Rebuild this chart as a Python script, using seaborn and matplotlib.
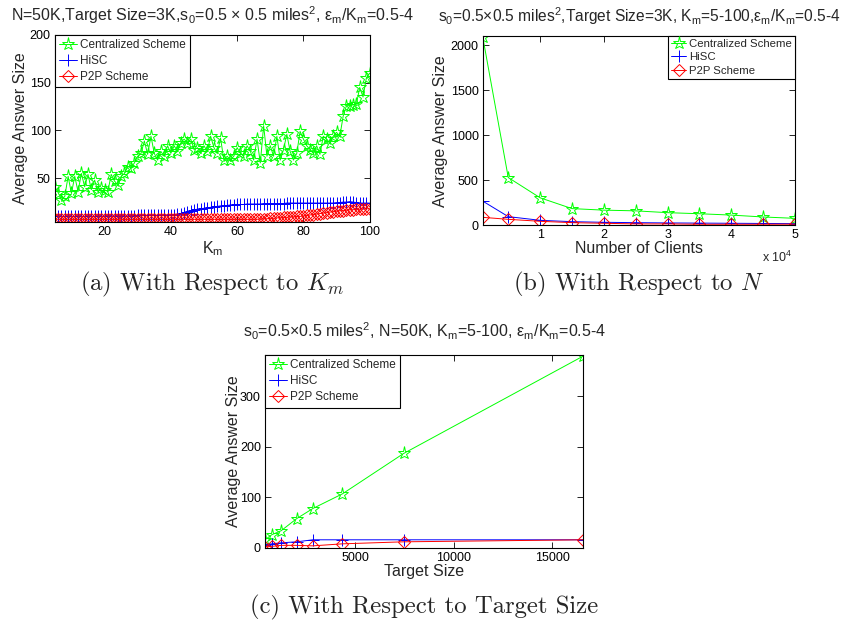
import matplotlib
matplotlib.use("Agg")
import matplotlib.pyplot as plt
import seaborn as sns
import pandas as pd
from matplotlib.ticker import FuncFormatter

# (a) average answer size vs K_m
km = list(range(5, 101))
central_a = [41, 35, 27, 31, 52, 34, 52, 36, 55, 41,
             54, 38, 48, 36, 40, 38, 36, 54, 47, 43,
             52, 55, 62, 61, 66, 73, 76, 89, 75, 94,
             76, 69, 78, 73, 84, 76, 84, 78, 87, 91,
             87, 91, 80, 82, 76, 84, 78, 94, 82, 76,
             92, 69, 73, 69, 73, 82, 76, 73, 84, 78,
             69, 91, 66, 105, 73, 84, 73, 94, 69, 80,
             96, 78, 69, 76, 99, 91, 84, 80, 76, 84,
             75, 94, 91, 87, 94, 98, 94, 115, 126, 126,
             127, 128, 145, 135, 155, 160]
hisc_a = [10, 10, 10, 10, 10, 10, 10, 10, 10, 10,
          10, 10, 10, 10, 10, 10.5, 10.5, 10.5, 10.5, 10.5,
          10.5, 10.5, 10.5, 10.5, 10.5, 11, 11, 11, 11, 11,
          11, 11, 11, 11.5, 11.5, 11.5, 12, 12.5, 13, 14,
          15, 16, 17, 17.5, 18, 18.5, 19, 19.5, 20, 20.5,
          21, 21, 21.5, 22, 22, 22.5, 22.5, 22.5, 23, 23,
          23, 23, 23, 23.5, 23.5, 23.5, 23.5, 23.5, 23.5, 23.5,
          24, 24, 24, 24, 24, 24, 24, 24, 24, 24,
          24, 24, 24, 24, 24, 24.5, 24.5, 25, 25, 25.5,
          25, 24.5, 24, 24, 24, 24]
p2p_a = [7, 7, 7, 7, 7, 7, 7, 7, 7, 7,
         7, 7, 7, 7, 7, 7, 7, 7, 7, 7,
         7, 7, 7, 7, 7, 7, 7, 7, 7, 7,
         7, 7, 7, 7, 7, 7, 7, 7, 7, 7,
         7, 7, 7, 7, 7, 7, 7, 7, 7, 7,
         7, 7, 7, 7, 7, 7, 7, 7, 7, 7,
         7, 7, 7.5, 7.5, 7.5, 8, 8, 8.5, 8.5, 9,
         9, 9.5, 9.5, 10, 10, 10.5, 11, 11.5, 12, 12.5,
         13, 13.5, 14, 14.5, 15, 15.5, 16, 16, 16.5, 17,
         17, 17.5, 17.5, 18, 18, 18]

# (b) average answer size vs number of clients
clients = [1000, 5000, 10000, 15000, 20000, 25000, 30000, 35000, 40000, 45000, 50000]
central_b = [2090, 530, 305, 185, 168, 160, 140, 128, 113, 92, 77]
hisc_b = [268, 96, 55, 40, 33, 29, 26, 24, 22, 20, 18]
p2p_b = [88, 66, 44, 29, 22, 15, 15, 11, 11, 11, 12]

# (c) average answer size vs target size
target = [420, 760, 1240, 2030, 2850, 4350, 7460, 16580]
central_c = [16, 26, 34, 58, 78, 107, 187, 380]
hisc_c = [6, 8, 10, 12, 16, 16, 16, 16]
p2p_c = [2, 3, 5, 5, 4, 8, 12, 16]

sns.set_style("ticks")
plt.rcParams['font.family'] = ['Liberation Sans', 'DejaVu Sans']
plt.rcParams['mathtext.fontset'] = 'custom'
plt.rcParams['mathtext.rm'] = 'Liberation Sans'
plt.rcParams['mathtext.it'] = 'Liberation Sans:italic'
plt.rcParams['mathtext.default'] = 'regular'

GREEN, BLUE, RED = '#00ff00', '#0000ff', '#ff0000'


def draw(ax, x, central, hisc, p2p, ms=8):
    styles = [("Centralized Scheme", central, GREEN, '*', ms + 1.5),
              ("HiSC", hisc, BLUE, '+', ms),
              ("P2P Scheme", p2p, RED, 'D', ms - 2)]
    for label, y, color, marker, size in styles:
        df = pd.DataFrame({'x': x, 'y': y})
        sns.lineplot(data=df, x='x', y='y', ax=ax, color=color, marker=marker,
                     markersize=size, markerfacecolor='none', markeredgecolor=color,
                     markeredgewidth=0.7, linewidth=0.7, label=label, legend=False)
    ax.tick_params(direction='in', top=True, right=True, length=4, width=0.6,
                   labelsize=9, colors='black', pad=3)
    for s in ax.spines.values():
        s.set_linewidth(0.8)
        s.set_color('black')
    ax.set_ylabel("Average Answer Size", fontsize=11.5)


def legend(ax, loc, size=8.5, spacing=0.35, hlen=1.5, bpad=0.35):
    leg = ax.legend(loc=loc, fontsize=size, frameon=True, fancybox=False,
                    edgecolor='black', framealpha=1, borderaxespad=0,
                    handlelength=hlen, labelspacing=spacing, borderpad=bpad,
                    handletextpad=0.3)
    leg.get_frame().set_linewidth(0.8)


fig = plt.figure(figsize=(8.44, 6.24), dpi=100)

ax_a = fig.add_axes([0.065, 0.644, 0.373, 0.300])
draw(ax_a, km, central_a, hisc_a, p2p_a)
ax_a.set_xlim(5, 100)
ax_a.set_ylim(4, 200)
ax_a.set_xticks([20, 40, 60, 80, 100])
ax_a.set_yticks([50, 100, 150, 200])
ax_a.set_xlabel("K$_m$", fontsize=11.5)
ax_a.xaxis.set_label_coords(0.5, -0.09)
ax_a.yaxis.set_label_coords(-0.085, 0.5)
ax_a.set_title("N=50K,Target Size=3K,s$_0$=0.5 × 0.5 miles$^2$, ε$_m$/K$_m$=0.5-4",
               fontsize=11.5, pad=10)
legend(ax_a, 'upper left')

ax_b = fig.add_axes([0.572, 0.639, 0.370, 0.303])
draw(ax_b, clients, central_b, hisc_b, p2p_b)
ax_b.set_xlim(1000, 50000)
ax_b.set_ylim(0, 2100)
ax_b.set_xticks([10000, 20000, 30000, 40000, 50000])
ax_b.set_yticks([0, 500, 1000, 1500, 2000])
ax_b.xaxis.set_major_formatter(FuncFormatter(lambda v, p: f"{v / 1e4:g}"))
ax_b.set_xlabel("Number of Clients", fontsize=11.5)
ax_b.xaxis.set_label_coords(0.5, -0.085)
ax_b.yaxis.set_label_coords(-0.11, 0.5)
ax_b.text(0.99, -0.13, "x 10$^4$", transform=ax_b.transAxes, ha='right',
          va='top', fontsize=9)
ax_b.set_title("s$_0$=0.5×0.5 miles$^2$,Target Size=3K, K$_m$=5-100,ε$_m$/K$_m$=0.5-4",
               fontsize=11.2, pad=10)
legend(ax_b, 'upper right', size=8.2, spacing=0.3, hlen=1.3, bpad=0.25)

ax_c = fig.add_axes([0.314, 0.122, 0.377, 0.309])
draw(ax_c, target, central_c, hisc_c, p2p_c)
ax_c.set_xlim(420, 16580)
ax_c.set_ylim(0, 382)
ax_c.set_xticks([5000, 10000, 15000])
ax_c.set_yticks([0, 100, 200, 300])
ax_c.set_xlabel("Target Size", fontsize=11.5)
ax_c.xaxis.set_label_coords(0.5, -0.085)
ax_c.yaxis.set_label_coords(-0.075, 0.5)
ax_c.set_title("s$_0$=0.5×0.5 miles$^2$, N=50K, K$_m$=5-100, ε$_m$/K$_m$=0.5-4",
               fontsize=11.5, pad=13)
legend(ax_c, 'upper left')

cap = dict(fontfamily='cmr10', math_fontfamily='cm', fontsize=17.8,
           ha='center', va='center')
fig.text(212 / 844, 1 - 284 / 624, r"(a) With Respect to $\mathit{K_m}$", **cap)
fig.text(639 / 844, 1 - 284 / 624, r"(b) With Respect to $\mathit{N}$", **cap)
fig.text(424 / 844, 1 - 607 / 624, "(c) With Respect to Target Size", **cap)

fig.savefig("out.png", dpi=100)
